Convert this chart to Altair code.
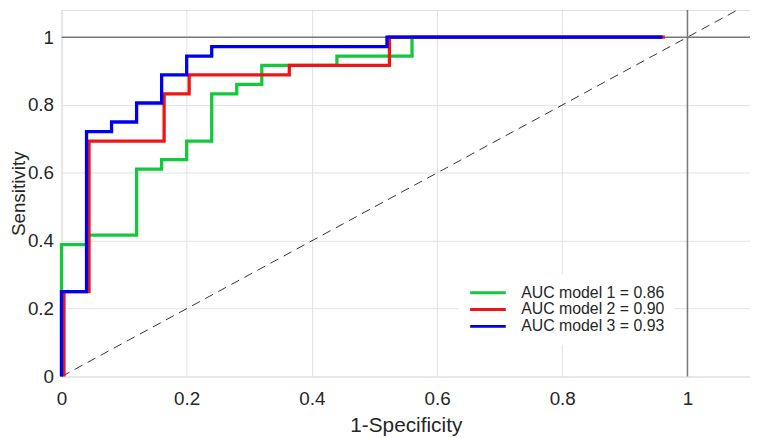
import altair as alt
import pandas as pd

# ROC corner points (1-specificity, sensitivity)
fpr1 = [0, 0, 0.04, 0.12, 0.16, 0.20, 0.24, 0.28, 0.32, 0.44, 0.56, 0.96]
tpr1 = [0, 0.389, 0.417, 0.611, 0.639, 0.694, 0.833, 0.861, 0.917, 0.944, 1.0, 1.0]
fpr2 = [0, 0, 0.04, 0.16, 0.20, 0.36, 0.52, 0.96]
tpr2 = [0, 0.25, 0.694, 0.833, 0.889, 0.917, 1.0, 1.0]
fpr3 = [0, 0, 0.04, 0.08, 0.12, 0.16, 0.20, 0.24, 0.52, 0.96]
tpr3 = [0, 0.25, 0.722, 0.75, 0.806, 0.889, 0.944, 0.972, 1.0, 1.0]
labels = ["AUC model 1 = 0.86", "AUC model 2 = 0.90", "AUC model 3 = 0.93"]
colors = ["#14c83c", "#f01414", "#0000f0"]
x_ticks = [0, 0.2, 0.4, 0.6, 0.8, 1]
y_ticks = [0, 0.2, 0.4, 0.6, 0.8, 1]
diag = [0, 1.1]
ref_one = [1]

FONT = "Liberation Sans"
TXT = "#262626"
GRID = "#e2e2e2"
FRAME = "#7a7a7a"

def series_df(fpr, tpr, lab):
    return pd.DataFrame({"fpr": fpr, "tpr": tpr, "model": lab, "i": list(range(len(fpr)))})

xscale = alt.Scale(domain=[0, 1.1], nice=False, zero=True)
yscale = alt.Scale(domain=[0, 1.08], nice=False, zero=True)

def xaxis():
    return alt.Axis(values=x_ticks, format="~g", title="1-Specificity", domain=False, ticks=False,
                    grid=True, gridColor=GRID, gridWidth=1, labelFontSize=19, labelColor=TXT,
                    labelPadding=13, labelFont=FONT, labelFlush=False, titleFont=FONT, titleFontSize=21,
                    titleFontWeight="normal", titleColor=TXT, titleBaseline="alphabetic", titleY=55)

def yaxis():
    return alt.Axis(values=y_ticks, format="~g", title="Sensitivity", domain=False, ticks=False,
                    grid=True, gridColor=GRID, gridWidth=1, labelFontSize=19, labelColor=TXT,
                    labelPadding=8, labelFont=FONT, labelFlush=False, titleFont=FONT, titleFontSize=19,
                    titleFontWeight="normal", titleColor=TXT, titleAngle=270,
                    titleBaseline="top", titleX=-52)

color_scale = alt.Scale(domain=labels, range=colors)
legend = alt.Legend(title=None, orient="none", legendX=401, legendY=267, fillColor="white",
                    padding=10, symbolType="stroke", symbolSize=1296, symbolStrokeWidth=3,
                    labelFontSize=16, labelFont=FONT, labelColor=TXT, labelOffset=14,
                    clipHeight=16.7, rowPadding=0)

diag_df = pd.DataFrame({"fpr": diag, "tpr": diag})
diag_layer = alt.Chart(diag_df).mark_line(color="#333333", strokeWidth=1, strokeDash=[9, 6], clip=True).encode(
    x=alt.X("fpr:Q", scale=xscale, axis=xaxis()),
    y=alt.Y("tpr:Q", scale=yscale, axis=yaxis()),
)

vref = alt.Chart(pd.DataFrame({"v": ref_one})).mark_rule(color=FRAME, strokeWidth=1.5).encode(
    x=alt.X("v:Q", scale=xscale, axis=xaxis()))
href = alt.Chart(pd.DataFrame({"v": ref_one})).mark_rule(color=FRAME, strokeWidth=1.5).encode(
    y=alt.Y("v:Q", scale=yscale, axis=yaxis()))

def curve(fpr, tpr, lab, xoff=0):
    return alt.Chart(series_df(fpr, tpr, lab)).mark_line(
        interpolate="step-after", strokeWidth=3.3, xOffset=xoff, strokeJoin="miter"
    ).encode(
        x=alt.X("fpr:Q", scale=xscale, axis=xaxis()),
        y=alt.Y("tpr:Q", scale=yscale, axis=yaxis()),
        order=alt.Order("i:Q"),
        color=alt.Color("model:N", scale=color_scale, legend=legend),
    )

chart = alt.layer(
    diag_layer, vref, href,
    curve(fpr1, tpr1, labels[0]),
    curve(fpr2, tpr2, labels[1], 2.5),
    curve(fpr3, tpr3, labels[2]),
).properties(
    width=695, height=370,
    autosize=alt.AutoSizeParams(type="none"),
    padding={"left": 54, "top": 0, "right": 0, "bottom": 60},
).configure_view(
    stroke=FRAME, strokeWidth=1.5
).configure(font=FONT)

chart.save("out.html", embed_options={"renderer": "svg", "actions": False})
